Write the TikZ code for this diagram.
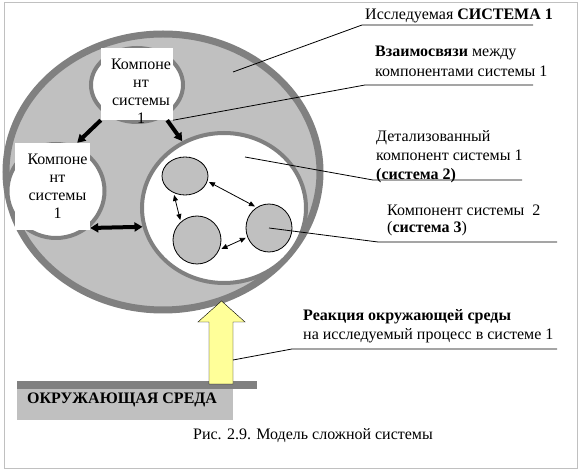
\documentclass[tikz,border=0pt]{standalone}
\usepackage{fontspec}
\setmainfont{Liberation Serif}
\usetikzlibrary{shapes.geometric,arrows.meta,positioning}
\definecolor{svet}{HTML}{C0C0C0}
\definecolor{temn}{HTML}{808080}
\definecolor{zhelt}{HTML}{FFFF99}

\begin{document}
\begin{tikzpicture}[x=1pt,y=-1pt,
  every node/.style={font=\fontsize{16}{19}\selectfont},
  ring/.style={ellipse,draw=temn,inner sep=0pt},
  okno/.style={fill=white,inner sep=0pt},
  comptext/.style={align=center,inner sep=0pt,font=\fontsize{16}{18}\selectfont},
  malyj/.style={ellipse,draw,fill=svet,line width=0.8pt,inner sep=0pt,outer sep=2pt},
  tolst/.style={line width=4pt,-{Triangle[length=8pt,width=9pt]}},
  tonk/.style={line width=0.8pt,{Triangle[length=6pt,width=5pt]}-{Triangle[length=6pt,width=5pt]}},
  vynoska/.style={line width=0.8pt},
  lbl/.style={align=left,anchor=north west,inner sep=0pt}]
\useasboundingbox (0,0) rectangle (582,470);
\draw[svet] (4,2) rectangle (577,468);
% sistema 1 i 2
\node[ring,fill=svet,line width=7pt,minimum width=314pt,minimum height=276pt] (S1) at (163,172) {};
\node[ring,fill=white,line width=4pt,minimum width=164pt,minimum height=150pt] (S2) at (224,208) {};
% komponenty
\node[ring,fill=white,line width=4pt,minimum width=92pt,minimum height=74pt] (KTc) at (137,85) {};
\node[ring,fill=white,line width=4pt,minimum width=97pt,minimum height=94pt] (KLc) at (56,191) {};
\node[okno,minimum width=72pt,minimum height=72pt] (KT) at (137,84) {};
\node[okno,minimum width=75pt,minimum height=87pt] (KL) at (52.5,186.5) {};
\node[comptext] at ([xshift=4pt,yshift=-7pt]KT.center) {Компоне\\нт\\системы\\1};
\node[comptext] at ([xshift=5pt]KL.center) {Компоне\\нт\\системы\\1};
\draw[tolst] (KT.south west) -- ([xshift=-13pt]KL.north east);
\draw[tolst] ([xshift=-6pt]KT.south east) -- (S2.122);
\draw[tolst,{Triangle[length=8pt,width=9pt]}-{Triangle[length=8pt,width=9pt]}] ([yshift=-41.5pt]KL.east) -- (S2.193);
% sistema 3
\foreach \x/\y/\w/\h [count=\n] in {185/176/46/38, 197/240/48/48, 269/228/46/48}
  \node[malyj,minimum width=\w pt,minimum height=\h pt] (C\n) at (\x,\y) {};
\draw[tonk] (C1.-14) -- (C3.123);
\draw[tonk] (C1.240) -- (C2.130);
\draw[tonk] (C2.-20) -- (C3.203);
% sreda
\fill[temn] (17,381) rectangle (257,389);
\node[fill=svet,inner sep=0pt,minimum width=216pt,minimum height=31pt] (sreda) at (125,404.5) {};
\node[anchor=base west,inner sep=0pt,font=\fontsize{16}{19}\bfseries] at (27,403.5) {ОКРУЖАЮЩАЯ СРЕДА};
\draw[fill=zhelt] (209,384) -- (209,322) -- (198,322) -- (221.5,301) -- (245,322) -- (233,322) -- (233,384) -- cycle;
% vynoski
\coordinate (v1) at (233,72);
\coordinate (v3) at (245,157);
\coordinate (v5) at (233,360);
\coordinate (u1) at (362,25);
\coordinate (u2) at (365,85);
\coordinate (u3) at (373,180);
\coordinate (u4) at (378,242);
\coordinate (u5) at (292,349);
\node[lbl] (L1) at (365,9) {Исследуемая \textbf{СИСТЕМА 1}};
\node[lbl,font=\fontsize{16}{20}\selectfont] (L2) at (375,46) {\textbf{Взаимосвязи} между\\компонентами системы 1};
\node[lbl] (L3) at (376,130) {Детализованный\\компонент системы 1\\\textbf{(система 2)}};
\node[lbl,font=\fontsize{16}{17}\selectfont] (L4) at (387,205) {Компонент системы~ 2\\(\textbf{система 3})};
\node[lbl] (L5) at (303,309) {\textbf{Реакция окружающей среды}\\на исследуемый процесс в системе 1};
\draw[vynoska] (v1) -- (u1) -- ++(171,0);
\draw[vynoska] (KT.south east) -- (u2) -- ++(168,0);
\draw[vynoska] (v3) -- (u3) -- ++(149,0);
\draw[vynoska] (C3.center) -- (u4) -- ++(179,0);
\draw[vynoska] (v5) -- (u5) -- ++(265,0);
\node[anchor=base] (cap) at (313,440) {Рис. 2.9. Модель сложной системы};
\end{tikzpicture}
\end{document}
